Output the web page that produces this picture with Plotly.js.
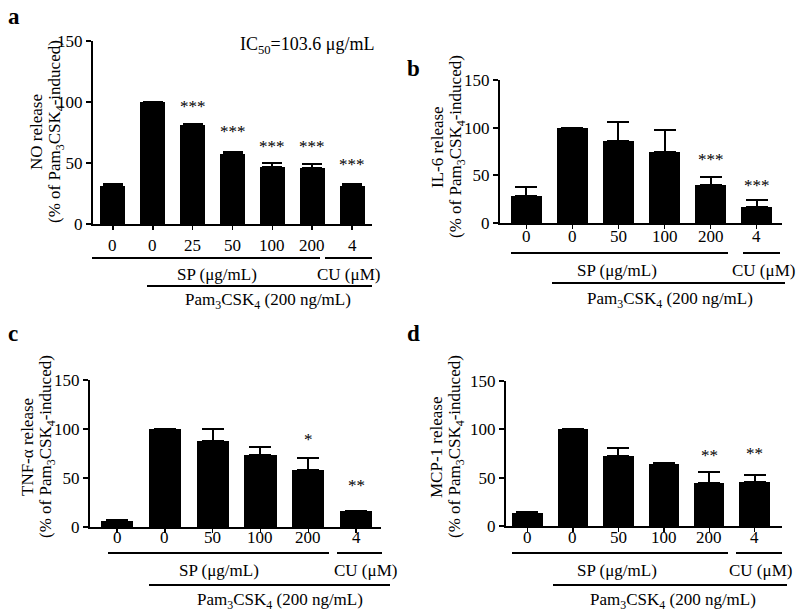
<!DOCTYPE html>
<html>
<head>
<meta charset="utf-8">
<script src="https://cdn.plot.ly/plotly-3.0.1.min.js"></script>
<style>html,body{margin:0;padding:0;background:#fff;}#chart{width:797px;height:612px;}</style>
</head>
<body>
<div id="chart"></div>
<script>
// ---------- data ----------
const labelsA = ['0', '0', '25', '50', '100', '200', '4'];
const valuesA = [31, 100, 81, 57, 47, 46, 31];
const errorsA = [2, 0, 1, 2, 3, 3, 2];
const starsA = ['', '', '***', '***', '***', '***', '***'];
const starYA = [null, null, 99, 78, 66, 66, 51];

const labelsB = ['0', '0', '50', '100', '200', '4'];
const valuesB = [28, 100, 86, 74, 40, 17];
const errorsB = [10, 0, 20, 24, 8, 7];
const starsB = ['', '', '', '', '***', '***'];
const starYB = [null, null, null, null, 70, 42];

const labelsC = ['0', '0', '50', '100', '200', '4'];
const valuesC = [6, 100, 88, 73, 58, 16];
const errorsC = [1.5, 0, 12, 9, 12, 0];
const starsC = ['', '', '', '', '*', '**'];
const starYC = [null, null, null, null, 92, 45];

const labelsD = ['0', '0', '50', '100', '200', '4'];
const valuesD = [13, 100, 72, 64, 45, 46];
const errorsD = [1, 0, 9, 1, 11, 7];
const starsD = ['', '', '', '', '**', '**'];
const starYD = [null, null, null, null, 76, 78];

const yTicks = [0, 50, 100, 150];
const yTitles = ['NO release', 'IL-6 release', 'TNF-α release', 'MCP-1 release'];
const yTitle2 = '(% of Pam<sub>3</sub>CSK<sub>4</sub>-induced)';
const panelLetters = ['a', 'b', 'c', 'd'];
const spLabel = 'SP (μg/mL)';
const cuLabel = 'CU (μM)';
const pamLabel = 'Pam<sub>3</sub>CSK<sub>4</sub> (200 ng/mL)';
const ic50Label = 'IC<sub>50</sub>=103.6 μg/mL';

// ---------- layout helpers ----------
const W = 797, H = 612;
const px = v => v / W;
const py = v => 1 - v / H;
const FONT = '"Liberation Serif", serif';

const panels = [
  {lab: labelsA, val: valuesA, err: errorsA, st: starsA, sy: starYA,
   dom: [93, 372, 41, 224], xr: [-0.5, 6.5], bw: 0.63, cap: 10, tickY: 245,
   title: [46, 132], letter: [14, 16],
   sp: [92, 320, 258], cu: [325, 372], spText: [217, 274], cuText: [348, 274],
   pam: [147, 372, 286], pamText: [268, 301]},
  {lab: labelsB, val: valuesB, err: errorsB, st: starsB, sy: starYB,
   dom: [500, 782, 80, 223], xr: [-0.57, 5.55], bw: 0.68, cap: 11, tickY: 237,
   title: [447, 147], letter: [414, 68],
   sp: [511, 728, 253], cu: [743, 780], spText: [617, 270], cuText: [763, 270],
   pam: [552, 785, 283], pamText: [670, 300]},
  {lab: labelsC, val: valuesC, err: errorsC, st: starsC, sy: starYC,
   dom: [90, 381, 380, 527], xr: [-0.565, 5.52], bw: 0.67, cap: 11, tickY: 537,
   title: [37, 447], letter: [13, 334],
   sp: [108, 329, 553], cu: [337, 382], spText: [219, 570], cuText: [365, 570],
   pam: [149, 390, 585], pamText: [280, 601]},
  {lab: labelsD, val: valuesD, err: errorsD, st: starsD, sy: starYD,
   dom: [506, 782, 381, 526], xr: [-0.47, 5.6], bw: 0.67, cap: 11, tickY: 537,
   title: [446, 447], letter: [413, 333],
   sp: [512, 728, 553], cu: [736, 782], spText: [617, 570], cuText: [760, 570],
   pam: [553, 787, 585], pamText: [673, 601]}
];

const traces = [];
const annotations = [];
const shapes = [];
const layout = {
  width: W, height: H,
  margin: {l: 0, r: 0, t: 0, b: 0},
  paper_bgcolor: '#fff', plot_bgcolor: 'rgba(0,0,0,0)',
  showlegend: false,
  font: {family: FONT, color: '#000', size: 17},
  bargap: 0
};

const txt = (xref, yref, x, y, text, size, extra) => annotations.push(Object.assign({
  xref, yref, x, y, text, showarrow: false, xanchor: 'center', yanchor: 'middle',
  font: {family: FONT, size, color: '#000'}}, extra || {}));

panels.forEach((p, i) => {
  const n = i + 1;
  const xk = n === 1 ? 'x' : 'x' + n;
  const yk = n === 1 ? 'y' : 'y' + n;
  const idx = p.lab.map((_, j) => j);
  traces.push({
    type: 'bar', x: idx, y: p.val, xaxis: xk, yaxis: yk,
    width: p.bw,
    marker: {color: '#000', line: {width: 0}},
    error_y: {type: 'data', array: p.err, arrayminus: p.err.map(() => 0), symmetric: false,
              color: '#000', thickness: 2, width: p.cap, visible: true},
    hoverinfo: 'skip'
  });
  layout['xaxis' + (n === 1 ? '' : n)] = {
    domain: [px(p.dom[0]), px(p.dom[1])], anchor: yk,
    range: p.xr, tickvals: idx, showticklabels: false,
    showline: true, linecolor: '#000', linewidth: 2,
    ticks: 'outside', ticklen: 4, tickwidth: 1.5, tickcolor: '#000',
    showgrid: false, zeroline: false, fixedrange: true
  };
  layout['yaxis' + (n === 1 ? '' : n)] = {
    domain: [py(p.dom[3]), py(p.dom[2])], anchor: xk,
    range: [0, 150], tickvals: yTicks, ticktext: yTicks.map(String),
    showline: true, linecolor: '#000', linewidth: 2,
    ticks: 'outside', ticklen: 5, tickwidth: 2, tickcolor: '#000',
    tickfont: {family: FONT, size: 17, color: '#000'},
    showgrid: false, zeroline: false, fixedrange: true
  };
  // category tick labels
  p.lab.forEach((l, j) => txt(xk, 'paper', j, py(p.tickY), l, 17));
  // significance stars
  p.st.forEach((s, j) => {
    if (!s) return;
    txt(xk, yk, j, p.sy[j], s, 17, {yshift: -3});
  });
  // y title (two lines)
  txt('paper', 'paper', px(p.title[0] - 10), py(p.title[1]), yTitles[i], 17, {textangle: -90});
  txt('paper', 'paper', px(p.title[0] + 10), py(p.title[1]), yTitle2, 17, {textangle: -90});
  // panel letter
  txt('paper', 'paper', px(p.letter[0]), py(p.letter[1]), '<b>' + panelLetters[i] + '</b>', 23);
  // group texts
  txt('paper', 'paper', px(p.spText[0]), py(p.spText[1]), spLabel, 17);
  txt('paper', 'paper', px(p.cuText[0]), py(p.cuText[1]), cuLabel, 17);
  txt('paper', 'paper', px(p.pamText[0]), py(p.pamText[1]), pamLabel, 17);
  // group lines
  const ln = (x0, x1, y) => shapes.push({type: 'line', xref: 'paper', yref: 'paper',
    x0: px(x0), x1: px(x1), y0: py(y), y1: py(y), line: {color: '#000', width: 2}});
  ln(p.sp[0], p.sp[1], p.sp[2]);
  ln(p.cu[0], p.cu[1], p.sp[2]);
  ln(p.pam[0], p.pam[1], p.pam[2]);
});

txt('paper', 'paper', px(307), py(46), ic50Label, 18);

layout.annotations = annotations;
layout.shapes = shapes;

Plotly.newPlot('chart', traces, layout, {displayModeBar: false, staticPlot: true});
</script>
</body>
</html>
